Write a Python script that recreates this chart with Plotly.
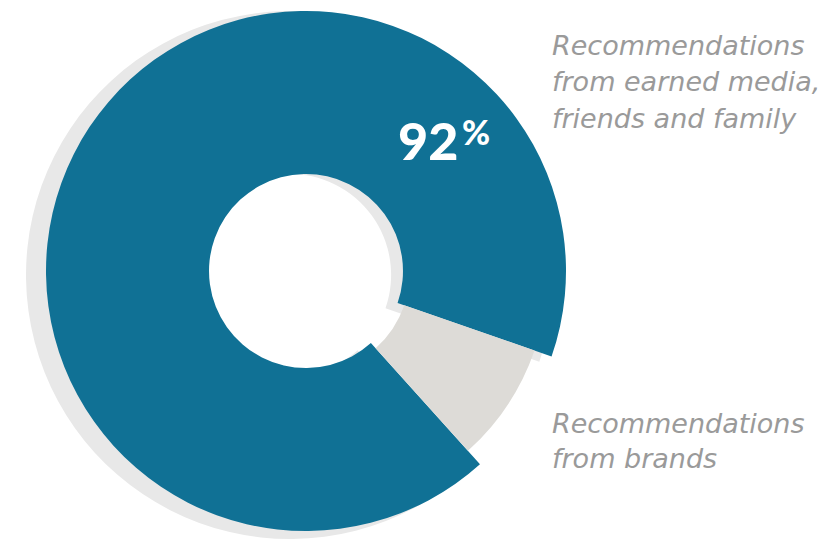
import plotly.graph_objects as go

# Data
categories = ["Recommendations from earned media, friends and family", "Recommendations from brands"]
shares = [92, 8]
headline = "92"
label_main_lines = ["Recommendations", "from earned media,", "friends and family"]
label_brand_lines = ["Recommendations", "from brands"]

BLUE = "#107195"
GRAY = "#dddbd7"
SHADOW = "#e8e8e8"
TEXT_GRAY = "#9a9a9a"
W, H = 831, 540

def px_dom(x0, x1, y0, y1):
    return dict(x=[x0 / W, x1 / W], y=[1 - y1 / H, 1 - y0 / H])

common = dict(labels=categories, values=shares, sort=False, direction="clockwise",
              rotation=138, textinfo="none", hoverinfo="skip", showlegend=False)

fig = go.Figure()
# soft shadow behind the blue ring
fig.add_trace(go.Pie(**common, hole=0.383, domain=px_dom(26, 554, 11, 539),
                     marker=dict(colors=[SHADOW, "rgba(0,0,0,0)"], line=dict(width=0))))
# main ring (blue share)
fig.add_trace(go.Pie(**common, hole=0.373, domain=px_dom(46, 566, 11, 531),
                     marker=dict(colors=[BLUE, "rgba(0,0,0,0)"], line=dict(width=0))))
# smaller brand slice
fig.add_trace(go.Pie(**common, hole=0.43, domain=px_dom(64, 548, 29, 513),
                     marker=dict(colors=["rgba(0,0,0,0)", GRAY], line=dict(width=0))))

anns = [
    dict(text=headline, x=428 / W, y=1 - 140 / H, xanchor="center", yanchor="middle",
         font=dict(family="Lato", size=52, color="white", weight=900)),
    dict(text="%", x=476 / W, y=1 - 131 / H, xanchor="center", yanchor="middle",
         font=dict(family="Lato", size=34, color="white", weight=900)),
]
label_font = dict(family="DejaVu Sans", size=27, color=TEXT_GRAY, style="italic")
for i, line in enumerate(label_main_lines):
    anns.append(dict(text=line, x=550 / W, y=1 - (45 + 36.5 * i) / H, xanchor="left",
                     yanchor="middle", font=label_font))
for i, line in enumerate(label_brand_lines):
    anns.append(dict(text=line, x=550 / W, y=1 - (423 + 35.5 * i) / H, xanchor="left",
                     yanchor="middle", font=label_font))
for a in anns:
    a.update(xref="paper", yref="paper", showarrow=False)

fig.update_layout(width=W, height=H, margin=dict(l=0, r=0, t=0, b=0),
                  paper_bgcolor="white", plot_bgcolor="white", annotations=anns)
fig.write_html("out.html")
